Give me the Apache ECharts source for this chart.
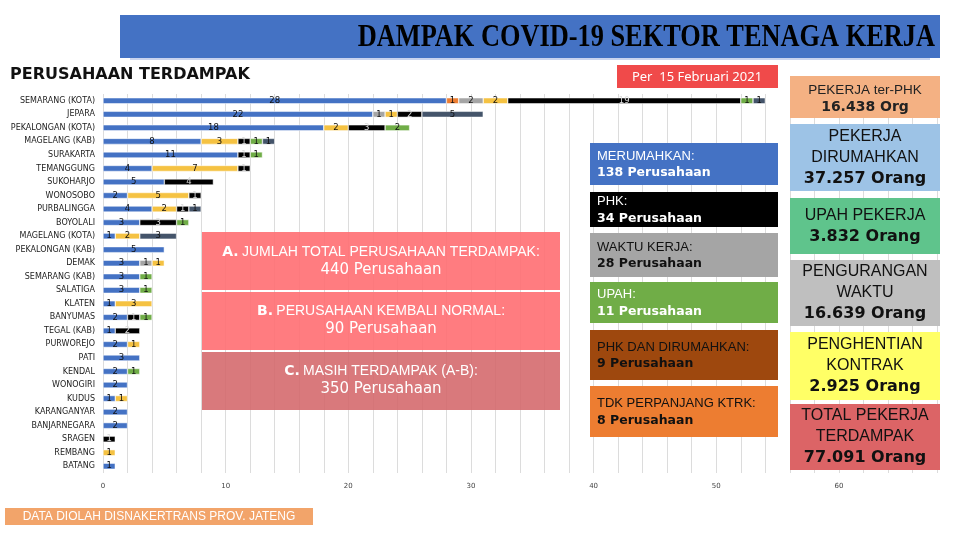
<!DOCTYPE html>
<html>
  <head>
    <meta charset="utf-8" />
    <title>Dampak COVID-19 Sektor Tenaga Kerja</title>
    <script src="https://cdn.jsdelivr.net/npm/echarts@6.0.0/dist/echarts.min.js"></script>
  </head>
  <body style="margin: 0">
    <div id="main" style="width: 960px; height: 540px"></div>

    <script>
      // kabupaten / kota
      var regions = [
        "SEMARANG (KOTA)", "JEPARA", "PEKALONGAN (KOTA)", "MAGELANG (KAB)",
        "SURAKARTA", "TEMANGGUNG", "SUKOHARJO", "WONOSOBO", "PURBALINGGA",
        "BOYOLALI", "MAGELANG (KOTA)", "PEKALONGAN (KAB)", "DEMAK",
        "SEMARANG (KAB)", "SALATIGA", "KLATEN", "BANYUMAS", "TEGAL (KAB)",
        "PURWOREJO", "PATI", "KENDAL", "WONOGIRI", "KUDUS", "KARANGANYAR",
        "BANJARNEGARA", "SRAGEN", "REMBANG", "BATANG"
      ];

      // jumlah perusahaan per jenis dampak
      var biru   = [28, 22, 18, 8, 11, 4, 5, 2, 4, 3, 1, 5, 3, 3, 3, 1, 2, 1, 2, 3, 2, 2, 1, 2, 2, 0, 0, 1];
      var oranye = [1, 0, 0, 0, 0, 0, 0, 0, 0, 0, 0, 0, 0, 0, 0, 0, 0, 0, 0, 0, 0, 0, 0, 0, 0, 0, 0, 0];
      var abu    = [2, 1, 0, 0, 0, 0, 0, 0, 0, 0, 0, 0, 1, 0, 0, 0, 0, 0, 0, 0, 0, 0, 0, 0, 0, 0, 0, 0];
      var kuning = [2, 1, 2, 3, 0, 7, 0, 5, 2, 0, 2, 0, 1, 0, 0, 3, 0, 0, 1, 0, 0, 0, 1, 0, 0, 0, 1, 0];
      var hitam  = [19, 2, 3, 1, 1, 1, 4, 1, 1, 3, 0, 0, 0, 0, 0, 0, 1, 2, 0, 0, 0, 0, 0, 0, 0, 1, 0, 0];
      var hijau  = [1, 0, 2, 1, 1, 0, 0, 0, 0, 1, 0, 0, 0, 1, 1, 0, 1, 0, 0, 0, 1, 0, 0, 0, 0, 0, 0, 0];
      var navy   = [1, 5, 0, 1, 0, 0, 0, 0, 1, 0, 3, 0, 0, 0, 0, 0, 0, 0, 0, 0, 0, 0, 0, 0, 0, 0, 0, 0];

      var seriesDef = [
        { name: "Merumahkan", data: biru, color: "#4472c4", label: "#111" },
        { name: "Tdk Perpanjang Ktrk", data: oranye, color: "#ed7d31", label: "#111" },
        { name: "Waktu Kerja", data: abu, color: "#a5a5a5", label: "#111" },
        { name: "Lainnya", data: kuning, color: "#f5c242", label: "#111" },
        { name: "PHK", data: hitam, color: "#000000", label: "#ddd" },
        { name: "Upah", data: hijau, color: "#70ad47", label: "#111" },
        { name: "PHK dan Dirumahkan", data: navy, color: "#44546a", label: "#111" }
      ];

      var myChart = echarts.init(document.getElementById("main"));

      var series = seriesDef.map(function (s) {
        return {
          name: s.name,
          type: "bar",
          stack: "total",
          barWidth: 6,
          data: s.data.map(function (v) { return v === 0 ? "-" : v; }),
          itemStyle: { color: s.color, borderColor: "#fff", borderWidth: 0.5 },
          label: {
            show: true,
            position: "inside",
            fontSize: 8.5,
            fontFamily: "DejaVu Sans",
            color: s.label,
            formatter: function (p) { return p.value ? p.value : ""; }
          }
        };
      });

      // kotak keterangan
      var g = [];
      function box(x, y, w, h, color, z) {
        g.push({ type: "rect", z: z || 100, shape: { x: x, y: y, width: w, height: h }, style: { fill: color } });
      }
      function txt(x, y, text, font, fill, align, extra) {
        var el = {
          type: "text", z: 101, x: x, y: y,
          style: { text: text, font: font, fill: fill, textAlign: align || "left", textVerticalAlign: "middle", align: align || "left", verticalAlign: "middle" }
        };
        if (extra) Object.assign(el, extra);
        g.push(el);
      }

      // judul
      box(120, 15, 820, 43, "#4472c4");
      g.push({ type: "rect", z: 99, shape: { x: 130, y: 58, width: 800, height: 2 }, style: { fill: "#c9d3ee" } });
      txt(935, 38, "DAMPAK COVID-19 SEKTOR TENAGA KERJA", "bold 31px 'Liberation Serif'", "#000", "right", { scaleX: 0.85 });
      txt(10, 75, "PERUSAHAAN TERDAMPAK", "bold 16px 'DejaVu Sans'", "#111", "left");
      box(617, 65, 161, 23, "#f04a4a");
      txt(697, 77, "Per  15 Februari 2021", "13px 'Noto Sans'", "#fff", "center");

      // kotak tengah
      box(202, 232, 358, 58, "rgba(255,110,114,0.9)");
      box(202, 292, 358, 58, "rgba(255,110,114,0.9)");
      box(202, 352, 358, 58, "rgba(212,102,106,0.88)");
      var mid = [
        ["A.", "JUMLAH TOTAL PERUSAHAAN TERDAMPAK:", "440 Perusahaan", 252],
        ["B.", "PERUSAHAAN KEMBALI NORMAL:", "90 Perusahaan", 311],
        ["C.", "MASIH TERDAMPAK (A-B):", "350 Perusahaan", 371]
      ];
      mid.forEach(function (m) {
        g.push({
          type: "text", z: 101, x: 381, y: m[3],
          style: {
            text: "{b|" + m[0] + "} {n|" + m[1] + "}",
            align: "center", verticalAlign: "middle", textAlign: "center", textVerticalAlign: "middle",
            rich: {
              b: { font: "bold 14px 'DejaVu Sans'", fill: "#fff" },
              n: { font: "14px 'Liberation Sans'", fill: "#fff" }
            }
          }
        });
        txt(381, m[3] + 18, m[2], "15px 'DejaVu Sans'", "#fff", "center");
      });

      // kotak jenis dampak perusahaan
      var col2 = [
        [143, 42, "#4472c4", "MERUMAHKAN:", "138 Perusahaan", "#fff"],
        [192, 35, "#000000", "PHK:", "34 Perusahaan", "#fff"],
        [233, 44, "#a5a5a5", "WAKTU KERJA:", "28 Perusahaan", "#111"],
        [282, 41, "#70ad47", "UPAH:", "11 Perusahaan", "#fff"],
        [330, 50, "#9e480e", "PHK DAN DIRUMAHKAN:", "9 Perusahaan", "#111"],
        [386, 51, "#ed7d31", "TDK PERPANJANG KTRK:", "8 Perusahaan", "#111"]
      ];
      col2.forEach(function (c) {
        box(590, c[0], 188, c[1], c[2]);
        var cy = c[0] + c[1] / 2;
        txt(597, cy - 8, c[3], "13px 'Liberation Sans'", c[5], "left");
        txt(597, cy + 9, c[4], "bold 12.5px 'DejaVu Sans'", c[5], "left");
      });

      // kotak pekerja
      box(790, 76, 150, 42, "#f4b183");
      txt(865, 90, "PEKERJA ter-PHK", "13.5px 'Liberation Sans'", "#222", "center");
      txt(865, 107, "16.438 Org", "bold 14px 'DejaVu Sans'", "#222", "center");
      var col3 = [
        [124, 67, "#9dc3e6", ["PEKERJA", "DIRUMAHKAN"], "37.257 Orang"],
        [198, 56, "#5fc48c", ["UPAH PEKERJA"], "3.832 Orang"],
        [260, 66, "#bfbfbf", ["PENGURANGAN", "WAKTU"], "16.639 Orang"],
        [332, 68, "#ffff66", ["PENGHENTIAN", "KONTRAK"], "2.925 Orang"],
        [404, 66, "#dc6466", ["TOTAL PEKERJA", "TERDAMPAK"], "77.091 Orang"]
      ];
      col3.forEach(function (c) {
        box(790, c[0], 150, c[1], c[2]);
        var n = c[3].length + 1;
        var top = c[0] + c[1] / 2 - (n - 1) * 10.5;
        c[3].forEach(function (l, i) {
          txt(865, top + i * 21, l, "16px 'Liberation Sans'", "#111", "center");
        });
        txt(865, top + (n - 1) * 21, c[4], "bold 16px 'DejaVu Sans'", "#111", "center");
      });

      // sumber
      box(5, 508, 308, 17, "#f2a46a");
      txt(159, 517, "DATA DIOLAH DISNAKERTRANS PROV. JATENG", "12px 'Liberation Sans'", "#fff", "center");

      var option = {
        animation: false,
        backgroundColor: "#fff",
        grid: { left: 103, right: 23, top: 94, bottom: 67 },
        xAxis: {
          type: "value",
          min: 0,
          max: 68,
          interval: 2,
          axisLine: { show: false },
          axisTick: { show: false },
          splitLine: { lineStyle: { color: "#dcdcdc", width: 1 } },
          axisLabel: {
            fontSize: 7,
            color: "#444",
            margin: 10,
            fontFamily: "DejaVu Sans",
            formatter: function (v) { return v % 10 === 0 ? v : ""; }
          }
        },
        yAxis: {
          type: "category",
          inverse: true,
          data: regions,
          axisLine: { show: false },
          axisTick: { show: false },
          axisLabel: { fontSize: 8, color: "#222", margin: 8, fontFamily: "DejaVu Sans" }
        },
        series: series,
        graphic: { elements: g }
      };

      myChart.setOption(option);
    </script>
  </body>
</html>
